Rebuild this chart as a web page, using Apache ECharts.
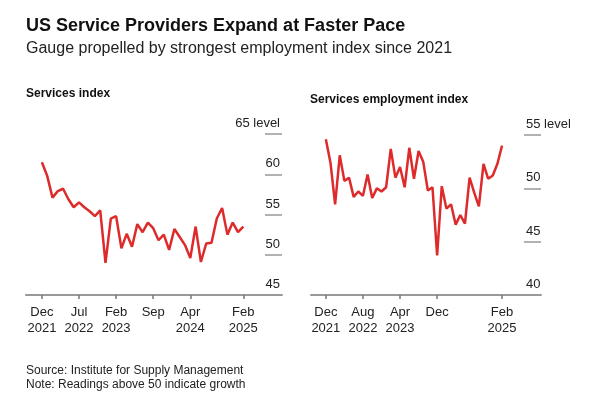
<!DOCTYPE html>
<html>
<head>
<meta charset="utf-8">
<script src="https://cdn.jsdelivr.net/npm/echarts@6/dist/echarts.min.js"></script>
<style>
  html, body { margin: 0; padding: 0; background: #fff; }
  #chart { width: 608px; height: 398px; }
</style>
</head>
<body>
<div id="chart"></div>
<script>
// monthly readings, Dec 2021 .. Feb 2025
const months = [
  'Dec 2021',
  'Jan 2022', 'Feb 2022', 'Mar 2022', 'Apr 2022', 'May 2022', 'Jun 2022',
  'Jul 2022', 'Aug 2022', 'Sep 2022', 'Oct 2022', 'Nov 2022', 'Dec 2022',
  'Jan 2023', 'Feb 2023', 'Mar 2023', 'Apr 2023', 'May 2023', 'Jun 2023',
  'Jul 2023', 'Aug 2023', 'Sep 2023', 'Oct 2023', 'Nov 2023', 'Dec 2023',
  'Jan 2024', 'Feb 2024', 'Mar 2024', 'Apr 2024', 'May 2024', 'Jun 2024',
  'Jul 2024', 'Aug 2024', 'Sep 2024', 'Oct 2024', 'Nov 2024', 'Dec 2024',
  'Jan 2025', 'Feb 2025'
]
const servicesIndex = [
  61.5,
  59.8, 57.1, 57.9, 58.2, 56.9, 55.9, 56.5, 55.9, 55.4, 54.8, 55.5, 49.0,
  54.5, 54.8, 50.8, 52.6, 51.0, 53.8, 52.8, 54.0, 53.3, 51.8, 52.5, 50.6,
  53.2, 52.2, 51.2, 49.6, 53.5, 49.1, 51.4, 51.5, 54.5, 55.8, 52.5, 54.0,
  52.8, 53.5
]
const employmentIndex = [
  54.6,
  52.4, 48.5, 53.1, 50.7, 51.0, 49.2, 49.7, 49.3, 51.3, 49.1, 50.0, 49.7,
  50.1, 53.7, 51.0, 52.0, 50.1, 53.8, 50.9, 53.5, 52.5, 49.8, 50.1, 43.7,
  50.2, 48.1, 48.5, 46.6, 47.5, 46.7, 51.0, 49.6, 48.3, 52.3, 50.9, 51.2,
  52.3, 54.0
]
const servicesTicks = ['Dec 2021', 'Jul 2022', 'Feb 2023', 'Sep 2023', 'Apr 2024', 'Feb 2025']
const servicesTickLabels = ['Dec\n2021', 'Jul\n2022', 'Feb\n2023', 'Sep', 'Apr\n2024', 'Feb\n2025']
const employmentTicks = ['Dec 2021', 'Aug 2022', 'Apr 2023', 'Dec 2023', 'Feb 2025']
const employmentTickLabels = ['Dec\n2021', 'Aug\n2022', 'Apr\n2023', 'Dec', 'Feb\n2025']
const servicesLevels = [45, 50, 55, 60, 65]
const employmentLevels = [40, 45, 50, 55]

const font = '"Liberation Sans", Arial, Helvetica, sans-serif'
const red = '#dd2a2a'

function monthAxis (gridIndex, ticks, labels, min, max) {
  const idx = ticks.map(m => months.indexOf(m))
  return {
    type: 'value',
    gridIndex: gridIndex,
    min: min,
    max: max,
    axisLine: { show: true, onZero: false, lineStyle: { color: '#999', width: 2 } },
    axisTick: { show: true, customValues: idx, length: 4, lineStyle: { color: '#777', width: 1.5 } },
    axisLabel: {
      customValues: idx,
      formatter: v => labels[idx.indexOf(v)],
      color: '#222', fontSize: 13, lineHeight: 16, margin: 9, fontFamily: font
    },
    splitLine: { show: false }
  }
}

// level axis sits 17px inside the plot, ticks run out to the right edge
function levelAxis (gridIndex, levels, align, margin) {
  const top = levels[levels.length - 1]
  return {
    type: 'value',
    gridIndex: gridIndex,
    position: 'right',
    offset: -17,
    min: levels[0],
    max: top,
    interval: 5,
    axisLine: { show: false, onZero: false },
    axisTick: { show: true, length: 17, lineStyle: { color: '#999', width: 1.5 } },
    axisLabel: {
      margin: margin,
      align: align,
      verticalAlign: 'bottom',
      padding: [0, 0, 4, 0],
      formatter: v => v === top ? v + ' level' : String(v),
      color: '#222', fontSize: 13, fontFamily: font
    },
    splitLine: { show: false }
  }
}

const chart = echarts.init(document.getElementById('chart'))
chart.setOption({
  animation: false,
  title: [
    { text: 'US Service Providers Expand at Faster Pace', left: 21, top: 12,
      textStyle: { fontSize: 18, fontWeight: 'bold', color: '#111', fontFamily: font } },
    { text: 'Gauge propelled by strongest employment index since 2021', left: 21, top: 36,
      textStyle: { fontSize: 16, fontWeight: 'normal', color: '#222', fontFamily: font } },
    { text: 'Services index', left: 21, top: 83,
      textStyle: { fontSize: 12, fontWeight: 'bold', color: '#111', fontFamily: font } },
    { text: 'Services employment index', left: 305, top: 89,
      textStyle: { fontSize: 12, fontWeight: 'bold', color: '#111', fontFamily: font } },
    { text: 'Source: Institute for Supply Management\nNote: Readings above 50 indicate growth', left: 21, top: 359,
      textStyle: { fontSize: 12, fontWeight: 'normal', color: '#222', lineHeight: 14, fontFamily: font } }
  ],
  grid: [
    { left: 26, right: 326, top: 134, bottom: 103 },
    { left: 311, right: 67, top: 135, bottom: 103 }
  ],
  xAxis: [
    monthAxis(0, servicesTicks, servicesTickLabels, -3, 45.3),
    monthAxis(1, employmentTicks, employmentTickLabels, -3.2, 46.4)
  ],
  yAxis: [
    levelAxis(0, servicesLevels, 'right', 15),
    levelAxis(1, employmentLevels, 'left', 2)
  ],
  series: [
    {
      name: 'Services index',
      type: 'line',
      xAxisIndex: 0,
      yAxisIndex: 0,
      symbol: 'none',
      data: servicesIndex.map((v, i) => [i, v]),
      lineStyle: { color: red, width: 2.5 }
    },
    {
      name: 'Services employment index',
      type: 'line',
      xAxisIndex: 1,
      yAxisIndex: 1,
      symbol: 'none',
      data: employmentIndex.map((v, i) => [i, v]),
      lineStyle: { color: red, width: 2.5 }
    }
  ]
})
</script>
</body>
</html>
